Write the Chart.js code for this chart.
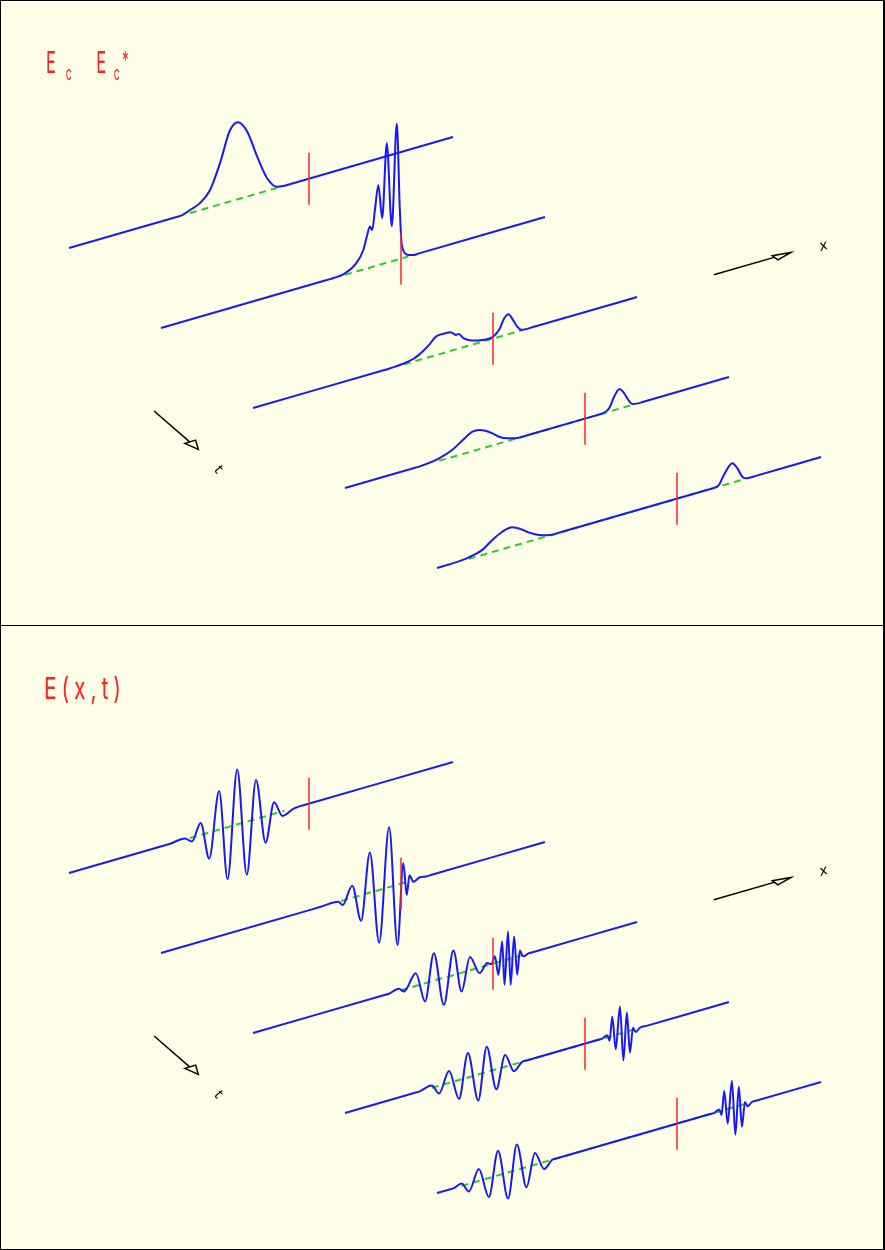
<!DOCTYPE html>
<html>
<head>
<meta charset="utf-8">
<script src="https://cdn.jsdelivr.net/npm/chart.js@4.4.1/dist/chart.umd.min.js"></script>
<style>
  html, body { margin: 0; padding: 0; background: #fefee9; }
  #wrap { position: relative; width: 885px; height: 1250px; background: #fefee9; overflow: hidden; }
  canvas { position: absolute; left: 0; }
  #frame { position: absolute; left: 0; top: 0; width: 885px; height: 1250px; box-sizing: border-box; border: 1px solid #000; border-right-width: 2px; pointer-events: none; }
  #divider { position: absolute; left: 0; top: 625px; width: 885px; height: 1px; background: #000; }
  .lbl { position: absolute; color: #ff2020; font-family: Inter, "DejaVu Sans", sans-serif; font-weight: 400; font-size: 30px; line-height: 30px; white-space: nowrap; transform-origin: 0 0; transform: scaleX(0.55); }
  .lbl .sb { font-size: 19px; position: relative; top: 7px; }
  .lbl .sp { font-size: 24px; position: relative; top: -4px; }
  .ax { position: absolute; color: #000; font-family: "DejaVu Sans", sans-serif; font-size: 14px; font-style: italic; line-height: 14px; }
</style>
</head>
<body>
<div id="wrap">
  <canvas id="chart-env" width="885" height="625" style="top:0px"></canvas>
  <canvas id="chart-field" width="885" height="625" style="top:625px"></canvas>
  <div id="frame"></div>
  <div id="divider"></div>

  <div class="lbl" style="left:46px; top:47px">E<span class="sb" style="margin-left:18px">c</span> <span style="margin-left:36px">E</span><span class="sb" style="margin-left:14px">c</span><span class="sp" style="margin-left:4px">*</span></div>
  <div class="lbl" style="left:44px; top:673px; transform:scaleX(0.7); letter-spacing:7px">E(x,t)</div>

  <div class="ax" style="left:819px; top:238px; transform:rotate(-17deg)">x</div>
  <div class="ax" style="left:216px; top:462px; transform:rotate(40deg)">t</div>
  <div class="ax" style="left:819px; top:863px; transform:rotate(-17deg)">x</div>
  <div class="ax" style="left:216px; top:1087px; transform:rotate(40deg)">t</div>
</div>

<script>
// 軸の長さと赤線の位置
const traceLength = 10;
const markerPos = 6.25;
const markerHalf = 0.26;
const timeSteps = [0, 1, 2, 3, 4];

// 上段: |Ec|^2 の各時刻のデータ [x, 値]
const envT0 = [[2.8,0],[2.94,0],[3.15,0.03],[3.41,0.07],[3.67,0.17],[3.93,0.41],[4.19,0.71],[4.40,0.77],[4.64,0.65],[4.90,0.37],[5.16,0.125],[5.42,0.01],[5.6,0],[5.75,0]];
const envT1 = [[4.25,0],[4.40,0],[4.79,0.015],[5.05,0.07],[5.27,0.195],[5.36,0.32],[5.44,0.41],[5.50,0.37],[5.57,0.56],[5.66,0.80],[5.76,0.46],[5.88,1.195],[6.01,0.35],[6.14,1.36],[6.22,0.49],[6.27,0.135],[6.44,0.016],[6.57,0],[6.7,0]];
const envT2 = [[3.4,0],[3.54,0],[3.93,0.01],[4.19,0.03],[4.41,0.074],[4.58,0.12],[4.76,0.185],[4.93,0.193],[5.15,0.186],[5.28,0.145],[5.36,0.145],[5.49,0.087],[5.71,0.04],[5.97,0.017],[6.23,0.015],[6.41,0.07],[6.54,0.17],[6.65,0.20],[6.77,0.13],[6.88,0.05],[7.00,0.004],[7.1,0],[7.25,0]];
const envT3 = [[1.8,0],[1.93,0],[2.45,0.025],[2.79,0.07],[3.05,0.134],[3.32,0.195],[3.49,0.193],[3.66,0.166],[3.84,0.12],[4.01,0.068],[4.23,0.028],[4.45,0.004],[4.6,0],[4.75,0],[6.45,0],[6.6,0],[6.74,0.004],[6.88,0.034],[7.01,0.136],[7.15,0.196],[7.27,0.14],[7.38,0.06],[7.48,0.01],[7.6,0],[7.75,0]];
const envT4 = [[0.2,0],[0.31,0],[0.83,0.015],[1.18,0.05],[1.44,0.12],[1.70,0.174],[1.96,0.19],[2.18,0.148],[2.40,0.087],[2.66,0.035],[2.87,0.01],[3.0,0],[3.15,0],[7.05,0],[7.2,0],[7.34,0.015],[7.47,0.10],[7.69,0.194],[7.82,0.13],[7.95,0.03],[8.04,0.005],[8.15,0],[8.3,0]];
const envSupport = [[3.15,5.42],[4.79,6.44],[3.93,7.00],[2.45,7.48],[0.83,8.04]]; // 緑の破線の範囲

// 下段: E(x,t)
const fieldT0 = [[2.5,0],[2.63,0],[3.02,0.01],[3.20,-0.04],[3.43,0.12],[3.65,-0.26],[3.91,0.386],[4.13,-0.52],[4.38,0.55],[4.63,-0.53],[4.87,0.39],[5.12,-0.265],[5.34,0.114],[5.56,-0.047],[5.84,-0.008],[6.0,0],[6.15,0]];
const fieldT1 = [[4.0,0],[4.14,0],[4.62,0],[4.73,-0.045],[4.98,0.12],[5.21,-0.255],[5.44,0.40],[5.68,-0.528],[5.94,0.597],[6.16,-0.604],[6.31,0.196],[6.40,-0.13],[6.47,0.06],[6.57,-0.017],[6.74,0.01],[6.9,0],[7.05,0]];
const fieldT2 = [[3.4,0],[3.54,0],[3.80,0.02],[3.93,-0.021],[4.24,0.128],[4.48,-0.182],[4.71,0.275],[4.97,-0.27],[5.22,0.246],[5.43,-0.188],[5.65,0.132],[5.90,-0.056],[6.10,0.022],[6.21,0.0],[6.30,0.067],[6.39,-0.127],[6.49,0.195],[6.55,-0.245],[6.64,0.279],[6.71,-0.262],[6.80,0.21],[6.88,-0.18],[6.95,0.054],[7.03,-0.014],[7.19,0],[7.35,0]];
const fieldT3 = [[1.8,0],[1.93,0],[2.26,0.024],[2.45,-0.077],[2.71,0.118],[2.97,-0.19],[3.20,0.246],[3.47,-0.26],[3.69,0.253],[3.94,-0.20],[4.17,0.117],[4.40,-0.07],[4.61,0],[4.75,0],[6.55,0],[6.70,0],[6.83,0.019],[6.89,-0.043],[6.96,0.19],[7.05,-0.145],[7.16,0.27],[7.25,-0.28],[7.34,0.19],[7.42,-0.22],[7.50,0.02],[7.57,-0.03],[7.68,0],[7.85,0]];
const fieldT4 = [[0.3,0],[0.44,0],[0.64,0.024],[0.83,-0.077],[1.09,0.118],[1.35,-0.19],[1.59,0.246],[1.85,-0.26],[2.08,0.253],[2.33,-0.20],[2.55,0.117],[2.79,-0.07],[3.0,0],[3.15,0],[7.07,0],[7.22,0],[7.35,0.019],[7.41,-0.043],[7.48,0.19],[7.57,-0.145],[7.68,0.27],[7.77,-0.28],[7.86,0.19],[7.94,-0.22],[8.02,0.02],[8.09,-0.03],[8.2,0],[8.35,0]];
const fieldSupport = [[3.15,5.61],[4.69,6.47],[3.85,7.00],[2.26,7.57],[0.64,8.09]];

// 斜投影 (x, 時刻, 値) -> キャンバス座標
const projOrigin = [69, 248];
const xStep = [38.4, -11.1];
const tStep = [92, 80];
const ampPx = 100;

function project(x, t, a) {
    return {
        x: projOrigin[0] + x * xStep[0] + t * tStep[0],
        y: projOrigin[1] + x * xStep[1] + t * tStep[1] - a * ampPx
    };
}

// 矢印の先 (白抜き三角)
const arrowHeads = {
    id: 'arrowHeads',
    afterDatasetsDraw(chart) {
        const ctx = chart.ctx;
        chart.data.datasets.forEach((ds, i) => {
            if (!ds.head) return;
            const pts = chart.getDatasetMeta(i).data;
            const a = pts[0], b = pts[pts.length - 1];
            const ang = Math.atan2(b.y - a.y, b.x - a.x);
            ctx.save();
            ctx.translate(b.x, b.y);
            ctx.rotate(ang);
            ctx.beginPath();
            ctx.moveTo(0, 0);
            ctx.lineTo(ds.head[0][0], ds.head[0][1]);
            ctx.lineTo(ds.head[1][0], ds.head[1][1]);
            ctx.closePath();
            ctx.fillStyle = '#fefee9';
            ctx.fill();
            ctx.lineWidth = 1.5;
            ctx.strokeStyle = '#000';
            ctx.stroke();
            ctx.restore();
        });
    }
};

function buildDatasets(traces, supports) {
    const datasets = [];
    timeSteps.forEach(t => {
        const line = [[0, 0], ...traces[t], [traceLength, 0]];
        datasets.push({
            data: line.map(p => project(p[0], t, p[1])),
            borderColor: '#1818ff', borderWidth: 2,
            cubicInterpolationMode: 'monotone', order: 1
        });
        datasets.push({
            data: supports[t].map(x => project(x, t, 0)),
            borderColor: '#2ccc2c', borderWidth: 2, borderDash: [7, 5], order: 2
        });
        datasets.push({
            data: [project(markerPos, t, markerHalf), project(markerPos, t, -markerHalf)],
            borderColor: '#ff2424', borderWidth: 1.5, order: 0
        });
    });
    // x と t の矢印
    datasets.push({
        data: [project(12, 2, 0), project(14, 2, 0)],
        borderColor: '#000', borderWidth: 1.5, order: 0,
        head: [[-18.5, -2.1], [-14.3, 3.4]]
    });
    datasets.push({
        data: [project(-2, 1.76, 0), project(-2, 2.24, 0)],
        borderColor: '#000', borderWidth: 1.5, order: 0,
        head: [[-14, 4.2], [-8.1, -5.3]]
    });
    return datasets;
}

function renderPanel(id, traces, supports) {
    const canvas = document.getElementById(id);
    return new Chart(canvas.getContext('2d'), {
        type: 'scatter',
        data: { datasets: buildDatasets(traces, supports) },
        options: {
            responsive: false,
            animation: false,
            events: [],
            layout: { padding: 0 },
            showLine: true,
            elements: { point: { radius: 0 } },
            scales: {
                x: { type: 'linear', display: false, min: 0, max: canvas.width },
                y: { type: 'linear', display: false, min: 0, max: canvas.height, reverse: true }
            },
            plugins: { legend: { display: false }, tooltip: { enabled: false } }
        },
        plugins: [arrowHeads]
    });
}

renderPanel('chart-env', [envT0, envT1, envT2, envT3, envT4], envSupport);
renderPanel('chart-field', [fieldT0, fieldT1, fieldT2, fieldT3, fieldT4], fieldSupport);
</script>
</body>
</html>
